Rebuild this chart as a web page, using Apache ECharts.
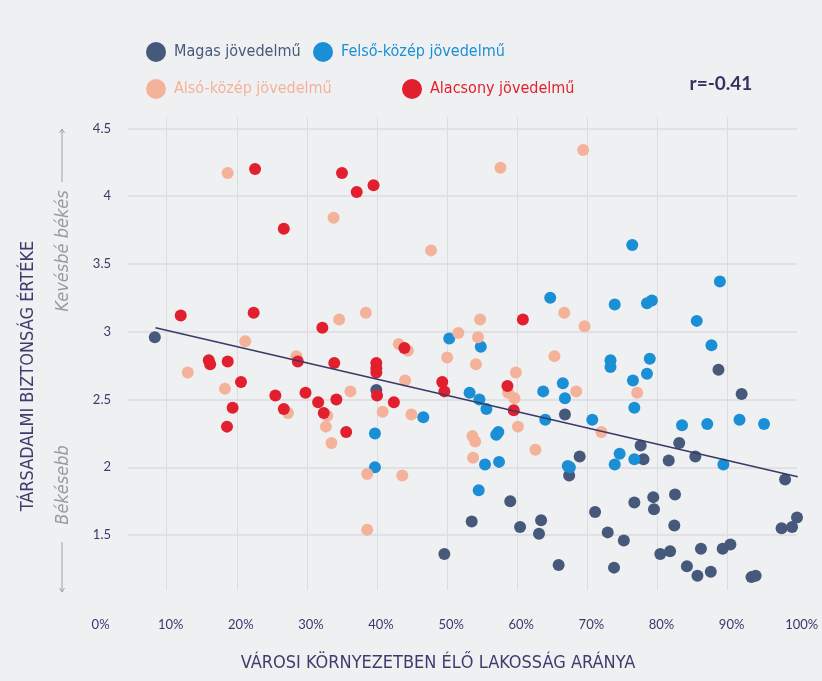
<!DOCTYPE html>
<html>
<head>
<meta charset="utf-8">
<script src="https://cdn.jsdelivr.net/npm/echarts@6/dist/echarts.min.js"></script>
<style>
  html, body { margin: 0; padding: 0; background: #eff0f2; }
  #chart { width: 822px; height: 681px; }
</style>
</head>
<body>
<div id="chart"></div>
<script>
// adatok: [városi lakosság aránya %, társadalmi biztonság értéke]
const seriesNames = ['Magas jövedelmű', 'Felső-közép jövedelmű', 'Alsó-közép jövedelmű', 'Alacsony jövedelmű'];
const seriesColors = ['#46597a', '#1b8fd6', '#f5b29b', '#e21f2e'];

const magas = [
  [8.3, 2.96], [39.9, 2.57], [66.8, 2.39], [67.4, 1.94], [59.0, 1.75], [53.5, 1.60],
  [60.4, 1.56], [63.4, 1.61], [63.1, 1.51], [49.6, 1.36], [65.9, 1.28], [88.7, 2.72],
  [92.0, 2.54], [77.6, 2.16], [83.1, 2.18], [78.0, 2.06], [81.6, 2.05], [85.4, 2.08],
  [98.2, 1.91], [68.9, 2.08], [71.1, 1.67], [76.7, 1.74], [79.4, 1.78], [79.5, 1.69],
  [82.5, 1.80], [82.4, 1.57], [72.9, 1.52], [75.2, 1.46], [73.8, 1.26], [80.4, 1.36],
  [81.8, 1.38], [86.2, 1.40], [84.2, 1.27], [85.7, 1.20], [87.6, 1.23], [89.3, 1.40],
  [90.4, 1.43], [93.4, 1.19], [94.0, 1.20], [97.7, 1.55], [99.2, 1.56], [99.9, 1.63]
];

const felsoKozep = [
  [64.7, 3.25], [76.4, 3.64], [88.9, 3.37], [73.9, 3.20], [78.5, 3.21], [79.2, 3.23],
  [85.6, 3.08], [50.3, 2.95], [54.8, 2.89], [46.6, 2.37], [39.7, 2.25], [53.2, 2.55],
  [54.6, 2.50], [55.6, 2.43], [63.7, 2.56], [66.5, 2.62], [66.8, 2.51], [64.0, 2.35],
  [57.0, 2.24], [57.3, 2.26], [55.4, 2.02], [57.4, 2.04], [39.7, 2.00], [54.5, 1.83],
  [67.2, 2.01], [67.5, 2.00], [87.7, 2.90], [73.3, 2.79], [73.3, 2.74], [78.9, 2.80],
  [78.5, 2.69], [76.5, 2.64], [76.7, 2.44], [70.7, 2.35], [83.5, 2.31], [87.1, 2.32],
  [91.7, 2.35], [95.2, 2.32], [74.6, 2.10], [73.9, 2.02], [76.7, 2.06], [89.4, 2.02]
];

const alsoKozep = [
  [18.7, 4.17], [33.8, 3.84], [47.7, 3.60], [57.6, 4.21], [66.7, 3.14], [54.7, 3.09],
  [38.4, 3.14], [34.6, 3.09], [51.6, 2.99], [69.4, 4.34], [69.6, 3.04], [21.2, 2.93],
  [13.0, 2.70], [18.3, 2.58], [28.5, 2.82], [27.3, 2.40], [32.9, 2.38], [32.7, 2.30],
  [33.5, 2.18], [54.4, 2.96], [43.1, 2.91], [44.4, 2.86], [50.0, 2.81], [54.1, 2.76],
  [65.3, 2.82], [59.8, 2.70], [44.0, 2.64], [36.2, 2.56], [40.8, 2.41], [44.9, 2.39],
  [58.7, 2.55], [59.6, 2.51], [60.1, 2.30], [53.6, 2.23], [54.0, 2.19], [62.6, 2.13],
  [53.7, 2.07], [38.6, 1.95], [43.6, 1.94], [38.6, 1.54], [68.4, 2.56], [77.1, 2.55],
  [72.0, 2.26]
];

const alacsony = [
  [22.6, 4.20], [26.7, 3.76], [35.0, 4.17], [37.1, 4.03], [39.5, 4.08], [12.0, 3.12],
  [22.4, 3.14], [32.2, 3.03], [60.8, 3.09], [16.0, 2.79], [16.2, 2.76], [18.7, 2.78],
  [20.6, 2.63], [19.4, 2.44], [18.6, 2.30], [28.7, 2.78], [25.5, 2.53], [29.8, 2.55],
  [26.7, 2.43], [31.6, 2.48], [32.4, 2.40], [33.9, 2.77], [34.2, 2.50], [43.9, 2.88],
  [39.9, 2.77], [39.9, 2.73], [39.9, 2.70], [40.0, 2.53], [42.4, 2.48], [35.6, 2.26],
  [49.3, 2.63], [49.6, 2.56], [58.6, 2.60], [59.5, 2.42]
];

// trendvonal
const trendLine = [[8.4, 3.03], [100, 1.93]];
const correlationText = 'r=-0.41';

const yMin = 1.095;
const yMax = 4.586;

const tickColor = '#3a3a6a';
const narrow = '"Liberation Sans Narrow", "DejaVu Sans Condensed", sans-serif';

const chart = echarts.init(document.getElementById('chart'));

function legendAt(idx, left, top) {
  return {
    left: left,
    top: top,
    itemWidth: 20,
    itemHeight: 20,
    icon: 'circle',
    selectedMode: false,
    data: [{ name: seriesNames[idx], textStyle: { color: seriesColors[idx] } }],
    textStyle: { fontFamily: narrow, fontSize: 16, padding: [0, 0, 0, 3] }
  };
}

function scatter(idx, data) {
  return {
    name: seriesNames[idx],
    type: 'scatter',
    data: data,
    symbolSize: 12,
    itemStyle: { color: seriesColors[idx], opacity: 1 },
    xAxisIndex: 0,
    yAxisIndex: 0,
    z: 2 + idx
  };
}

const option = {
  backgroundColor: '#eff0f2',
  animation: false,
  legend: [
    legendAt(0, 141, 37),
    legendAt(1, 308, 37),
    legendAt(2, 141, 74),
    legendAt(3, 397, 74)
  ],
  grid: [
    { left: 96.6, right: 24.3, top: 116.7, bottom: 91 },
    { left: 128, right: 25, top: 116.7, bottom: 91 }
  ],
  xAxis: [
    {
      gridIndex: 0,
      type: 'value',
      min: 0,
      max: 100,
      interval: 10,
      axisLine: { show: false },
      axisTick: { show: false },
      axisLabel: {
        formatter: '{value}%',
        color: tickColor,
        fontFamily: 'Lato, sans-serif',
        fontSize: 13,
        margin: 28,
        padding: [0, 0, 0, 8]
      },
      splitLine: {
        show: true,
        showMinLine: false,
        showMaxLine: false,
        lineStyle: { color: '#dcdde1', width: 1 }
      }
    },
    { gridIndex: 1, type: 'value', min: 0, max: 100, show: false }
  ],
  yAxis: [
    { gridIndex: 0, type: 'value', min: yMin, max: yMax, show: false },
    {
      gridIndex: 1,
      type: 'value',
      min: yMin,
      max: yMax,
      splitNumber: 7,
      axisLine: { show: false },
      axisTick: { show: false },
      axisLabel: {
        color: tickColor,
        fontFamily: 'Lato, sans-serif',
        fontSize: 13,
        margin: 17,
        showMinLabel: false,
        showMaxLabel: false
      },
      splitLine: {
        show: true,
        showMinLine: false,
        showMaxLine: false,
        lineStyle: { color: '#dcdde1', width: 1.5 }
      }
    }
  ],
  series: [
    scatter(2, alsoKozep),
    scatter(0, magas),
    scatter(1, felsoKozep),
    scatter(3, alacsony),
    {
      type: 'line',
      data: trendLine,
      symbol: 'none',
      silent: true,
      lineStyle: { color: '#3a3966', width: 1.6 },
      xAxisIndex: 0,
      yAxisIndex: 0,
      z: 10
    }
  ],
  graphic: [
    {
      type: 'text', x: 28, y: 376, rotation: Math.PI / 2,
      style: {
        text: 'TÁRSADALMI BIZTONSÁG ÉRTÉKE', align: 'center', verticalAlign: 'middle',
        fontFamily: narrow, fontSize: 18, fill: '#3b3e6d'
      }
    },
    {
      type: 'text', x: 63, y: 251, rotation: Math.PI / 2,
      style: {
        text: 'Kevésbé békés', align: 'center', verticalAlign: 'middle',
        fontFamily: narrow, fontStyle: 'italic', fontSize: 18, fill: '#9a9a9c'
      }
    },
    {
      type: 'text', x: 63, y: 485, rotation: Math.PI / 2,
      style: {
        text: 'Békésebb', align: 'center', verticalAlign: 'middle',
        fontFamily: narrow, fontStyle: 'italic', fontSize: 18, fill: '#9a9a9c'
      }
    },
    { type: 'line', shape: { x1: 62, y1: 129, x2: 62, y2: 182 }, style: { stroke: '#a0a0a2', lineWidth: 1 } },
    { type: 'polyline', shape: { points: [[59.5, 133], [62, 129], [64.5, 133]] }, style: { stroke: '#a0a0a2', lineWidth: 1, fill: null } },
    { type: 'line', shape: { x1: 62, y1: 542, x2: 62, y2: 592 }, style: { stroke: '#a0a0a2', lineWidth: 1 } },
    { type: 'polyline', shape: { points: [[59.5, 588], [62, 592], [64.5, 588]] }, style: { stroke: '#a0a0a2', lineWidth: 1, fill: null } },
    {
      type: 'text', x: 438, y: 663,
      style: {
        text: 'VÁROSI KÖRNYEZETBEN ÉLŐ LAKOSSÁG ARÁNYA', align: 'center', verticalAlign: 'middle',
        fontFamily: narrow, fontSize: 18, fill: '#3b3e6d'
      }
    },
    {
      type: 'text', x: 721, y: 84,
      style: {
        text: correlationText, align: 'center', verticalAlign: 'middle',
        fontFamily: 'Lato, sans-serif', fontWeight: 'bold', fontSize: 19, fill: '#2f3262'
      }
    }
  ]
};

chart.setOption(option);
</script>
</body>
</html>
